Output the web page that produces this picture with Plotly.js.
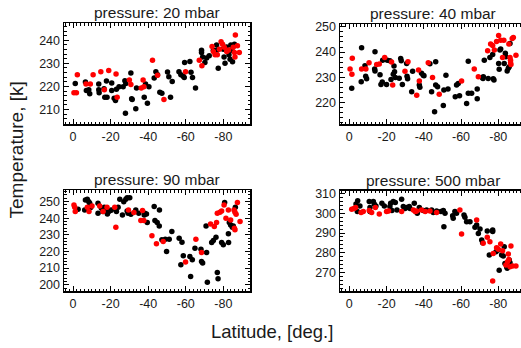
<!DOCTYPE html>
<html>
<head>
<meta charset="utf-8">
<script src="https://cdn.plot.ly/plotly-3.0.1.min.js"></script>
<style>
html,body{margin:0;padding:0;overflow:hidden;width:521px;height:348px;background:#fff;}
#chart{width:540px;height:348px;}
</style>
</head>
<body>
<div id="chart"></div>
<script>
// ---------- data ----------
const titles = ["pressure: 20 mbar", "pressure: 40 mbar", "pressure: 90 mbar", "pressure: 500 mbar"];

// 20 mbar
const lat20Black = [-1.2,-6.6,-7.1,-8.4,-8.9,-13.7,-13.7,-13.9,-16.5,-16.9,-17.8,-18.1,-20.6,-20.6,-21.9,-22.6,-23.1,-24.5,-26.7,-27.6,-28.1,-27.9,-30.8,-31.5,-31.2,-33.4,-33.8,-37.9,-38.6,-39.6,-40.4,-43.2,-44.1,-45,-46.2,-47.3,-50.3,-51,-51.9,-52.8,-56.4,-57.4,-58.7,-59.2,-59.4,-62.2,-62.8,-63.6,-65.2,-68.4,-68.4,-69,-70.2,-71.1,-72.5,-74.7,-76.4,-76.6,-77.3,-80,-80.4,-80.9,-81.8,-82.7,-83,-83.6,-84,-84.5,-84.9,-85.9];
const t20Black   = [221.3,221.9,218.2,218.5,216.8,221,218.5,217.3,219,215.3,222.3,215.3,221.5,218.2,214.9,213.9,218.8,219.9,219.9,222.5,221.3,208.4,225.8,214.3,214.6,210.3,219.3,215.3,221,212.7,219.9,223.6,226.4,225.1,217.5,217,226.2,224.2,215.3,222.1,226.4,225.1,224.4,223.9,230.4,230.8,226.1,223.9,219.3,235.7,234.7,232.8,230.4,232.3,233.3,235.7,238,235.7,227.9,236.1,232.8,230,237.1,235.4,233.7,231.8,238,235.7,230.7,238.3];
const lat20Red   = [-0.5,-1.8,-2.3,-6.9,-9.2,-10.7,-14.8,-16.7,-19,-22.9,-23.5,-30,-30.8,-36.3,-37.3,-37.7,-42.3,-45,-48.4,-59.9,-67.2,-68.6,-74,-74.7,-75.6,-76.8,-77.9,-78.8,-79.6,-80.5,-81.8,-82.8,-85.3,-85.9,-86.2,-86.4,-87.5,-88.5];
const t20Red     = [217.2,217.2,225.1,221,221,225.1,226.4,218.5,226.9,225.4,215.3,222.8,220.8,219.3,222.8,219.9,231.4,224.8,214.3,226.4,231.4,229,237.3,235.1,233.7,233.7,236.1,239.4,238.3,237,235.1,235.8,237,234.7,232.8,242.3,237.6,234.7];

// 40 mbar
const lat40Black = [-1.3,-6.6,-6.4,-8.4,-8.8,-9.3,-13.8,-13.6,-13.8,-16.5,-17,-17.7,-17.9,-20.4,-20,-21.8,-22.4,-23.6,-24,-24.3,-24.7,-26.8,-27.6,-27.9,-28.5,-30.8,-31,-31.3,-33.5,-34,-37.6,-37.9,-38.8,-39.7,-40.1,-43.3,-44.2,-45.8,-46.4,-46.4,-47.4,-50.5,-50.8,-51.9,-53,-56.9,-57.6,-58.5,-59.2,-63,-63.9,-63.9,-65.7,-68.7,-68.7,-71.4,-71.8,-72,-72.5,-74.6,-75.5,-77,-77.3,-77.7,-80.2,-80.5,-80.9,-81.3,-83.2,-83.8,-84.1,-84.8,-85.4,-85.9,-86.3];
const t40Black   = [225.7,241.7,228.3,234.6,230.5,229.5,240.1,233.3,232.5,231.1,227.2,228.2,236.8,236.8,227.2,236.6,229.2,231.3,234.5,232.2,230,229.7,237.5,236.6,227.2,235.5,230.5,229.5,224.3,232.4,227,226.1,231.6,230.9,230.7,235.4,224.3,216.4,236.2,227,226.3,218.9,225,230.9,225.4,222.4,227,227.6,222.8,219.7,223.7,236.4,223.7,225.4,221.6,230,229.6,230.3,236.8,229.6,237.9,239.1,229.5,229,235.5,233.2,240.8,241.2,235.5,239.5,238.2,232.5,233.6,234.2,243.4];
const lat40Red   = [-0.4,-1.4,-1.6,-6.6,-8.9,-10.6,-14.7,-16.1,-19,-22.7,-23.3,-29.9,-31.5,-36.2,-37.2,-37.6,-42.4,-44.7,-48.3,-60.3,-67.1,-69.3,-74.3,-75.9,-77,-77.9,-79.1,-80.2,-81.3,-82.3,-83,-85.7,-86.3,-86.6,-86.6,-86.8,-87.5,-88.1,-89.5];
const t40Red     = [233.3,231.3,237.6,233.3,233.3,235.8,235.1,235.3,237.9,236.1,227,232.4,236.2,223,232.9,228.6,235.8,230,223.4,228.6,233.3,230.3,240.5,243.2,242.6,240.8,244.2,246.6,244.7,237.9,244.7,243.2,237.9,236.8,235.8,235.1,245.4,245.8,238.8];

// 90 mbar
const lat90Black = [-2.7,-6.2,-6.6,-7.6,-8.4,-8.9,-9.4,-13.3,-13.3,-15.1,-16,-16.7,-17.4,-18.3,-19,-19.9,-20.4,-23.1,-24,-24.9,-26.3,-27,-28.1,-28.8,-30.2,-28.8,-29.3,-30.8,-33.4,-35,-37.9,-38.2,-39.1,-39.5,-43.2,-43.6,-44.8,-45.9,-46,-47.3,-49.1,-49.8,-51.2,-52.6,-56.5,-58,-57.4,-58.7,-62.2,-62.6,-63.5,-64.9,-68.1,-68.4,-69,-70.8,-71.1,-71.5,-73.8,-74.7,-76.1,-76.8,-77.2,-79.1,-80,-80.7,-82.7,-82.8,-83.2,-83.9,-84.8,-85.3,-86.4];
const t90Black   = [245.4,245,251,251.4,250,249,246.4,249,243,246,244,246.6,246,242.6,244,244.6,245,244,246.6,251.4,242,250,251.4,252.4,252.4,244.4,243,242.4,245,243,242,243,242.6,237.4,247,238.6,237.4,235.4,245,227,227.4,220,227.4,232,228,225.6,212,217.4,217,205,215,222,221.4,214,213,235.4,219.4,201.4,225.4,226.6,228.6,207.4,203.6,225.4,224,249.4,230.6,225.4,237.4,236,234.6,235.4,246.6];
const lat90Red   = [-0.5,-0.9,-1.2,-7.6,-8.5,-10.1,-14.2,-16,-18.1,-22.2,-22.8,-29.5,-32.4,-36.1,-37,-37.7,-42,-44.4,-48,-59.9,-65.4,-68.4,-73.2,-75.2,-76.4,-76.8,-78.2,-79.1,-80.4,-81.4,-82.7,-83.9,-85.7,-86.2,-85.9,-86.2,-86.8,-87.5,-88.9];
const t90Red     = [248,246.6,244,246.6,244,247.4,247.4,244,246.6,246.6,234.6,245,243.4,238.6,244.6,238.6,229.4,224.6,226,213.6,227.4,219.4,236.6,235,237.4,243,243.6,244.4,248,240,245,239,245,243.6,234,233,242.4,249.4,238];

// 500 mbar
const lat500Black = [-3.6,-4.5,-4.3,-5.7,-10.7,-11.1,-11.1,-12.9,-13.4,-14.3,-17.5,-18.8,-21.8,-22.2,-22.9,-23.6,-24.7,-25.6,-28.1,-29,-29.9,-30.8,-32.2,-32.6,-34.9,-36.5,-37.6,-39.7,-41.5,-44.2,-45.1,-46.9,-49.2,-50.5,-51.4,-50.8,-55.5,-55.8,-56.7,-57.6,-61.6,-62.1,-63,-64.8,-67.5,-68.4,-69.3,-70.2,-71.1,-71.6,-74.1,-75.2,-77,-77,-78.8,-80,-80.5,-81.8,-82.7,-83.2,-83.6,-84.5,-84.8,-85.9,-86.3];
const t500Black   = [304.6,306.3,300.8,303.6,305.8,302.8,300.8,305.8,304.6,303.6,305,303.6,303.3,305,301.3,305.8,305.3,301.6,307,303.3,302.4,302.9,303.3,302.4,305,299.9,302.9,301.3,301.6,301.6,300.3,301.1,300.8,301.3,299.9,293.2,298.7,297.4,300.8,299.9,299.1,297.9,295.7,295.7,292.9,294,289.8,292,286.5,285.1,291,278.9,291.5,290.8,280.6,281.4,271.3,278.9,278.4,283.1,274.7,273,272.2,276.4,275];
const lat500Red   = [-1.3,-2.5,-3.4,-6.3,-7.5,-10.7,-12,-14,-16.1,-20,-21.1,-28.1,-34.4,-35.4,-36.2,-38.8,-40.8,-43.3,-46.9,-59.4,-60.3,-68.4,-71.9,-74.1,-75.5,-77,-77.3,-79.1,-80,-81.3,-82.3,-84.1,-85,-85.4,-85.7,-86.3,-86.8,-87.7,-89.5];
const t500Red     = [301.9,302.4,302.9,300.3,300.8,301.3,300.3,302.9,299.6,300.8,301.1,300.8,301.6,300.8,301.1,301.6,300.8,301.1,300.3,301.6,289.5,296.6,284.8,287.8,285.6,265.8,279.7,282.6,281.8,284.5,281.1,273.9,275.5,279.4,276.7,273,283.4,273.4,273.4];

const xTickVals = [0, -20, -40, -60, -80];

// ---------- layout helpers ----------
const W = 540, H = 348;
const px = v => v / W;
const py = v => 1 - v / H;

const panels = [
  {lat: [lat20Black, lat20Red], t: [t20Black, t20Red], xd: [64, 250], yd: [23, 124], xr: [4.8, -94.2], yr: [203.7, 247.5], yt: [210, 220, 230, 240]},
  {lat: [lat40Black, lat40Red], t: [t40Black, t40Red], xd: [340, 526], yd: [24, 124], xr: [5, -94.9], yr: [211.6, 251.1], yt: [220, 230, 240, 250]},
  {lat: [lat90Black, lat90Red], t: [t90Black, t90Red], xd: [64, 250], yd: [190, 291], xr: [4.8, -94.2], yr: [196.2, 257], yt: [200, 210, 220, 230, 240, 250]},
  {lat: [lat500Black, lat500Red], t: [t500Black, t500Red], xd: [340, 526], yd: [190.7, 291], xr: [5, -94.9], yr: [260.8, 311.3], yt: [270, 280, 290, 300, 310]}
];

const colors = ["#000000", "#ff0000"];
const FONT = "Liberation Sans, Arial, sans-serif";
const tickFont = {family: FONT, size: 12.5, color: "#1a1a1a"};

const data = [];
const layout = {
  width: W, height: H,
  margin: {l: 0, r: 0, t: 0, b: 0},
  paper_bgcolor: "#ffffff", plot_bgcolor: "#ffffff",
  showlegend: false,
  annotations: []
};

panels.forEach((p, i) => {
  const n = i + 1;
  const xa = "x" + (n === 1 ? "" : n), ya = "y" + (n === 1 ? "" : n);
  for (let s = 0; s < 2; s++) {
    data.push({
      type: "scatter", mode: "markers",
      x: p.lat[s], y: p.t[s], xaxis: xa, yaxis: ya,
      marker: {color: colors[s], size: 5.5, line: {width: 0}},
      hoverinfo: "skip"
    });
  }
  const common = {
    showline: true, linecolor: "#000", linewidth: 1.5, mirror: "allticks",
    ticks: "inside", ticklen: 5, tickwidth: 1, tickcolor: "#000",
    showgrid: false, zeroline: false, tickfont: tickFont, fixedrange: true
  };
  layout["xaxis" + (n === 1 ? "" : n)] = Object.assign({}, common, {
    domain: [px(p.xd[0]), px(p.xd[1])], range: p.xr, anchor: ya,
    tickmode: "array", tickvals: xTickVals, ticktext: xTickVals.map(String),
    minor: {dtick: 2, tick0: 0, ticks: "inside", ticklen: 2.5, tickcolor: "#000", tickwidth: 1}
  });
  layout["yaxis" + (n === 1 ? "" : n)] = Object.assign({}, common, {
    domain: [py(p.yd[1]), py(p.yd[0])], range: p.yr, anchor: xa,
    tickmode: "array", tickvals: p.yt, ticktext: p.yt.map(String),
    minor: {dtick: 2, tick0: 0, ticks: "inside", ticklen: 2.5, tickcolor: "#000", tickwidth: 1}
  });
  layout.annotations.push({
    text: titles[i], showarrow: false, xref: "paper", yref: "paper",
    x: px((p.xd[0] + p.xd[1]) / 2), y: py(p.yd[0] - 10.5),
    xanchor: "center", yanchor: "middle",
    font: {family: FONT, size: 15.5, color: "#1a1a1a"}
  });
});

layout.annotations.push({
  text: "Temperature, [k]", showarrow: false, xref: "paper", yref: "paper",
  x: px(16), y: py(150.5), xanchor: "center", yanchor: "middle", textangle: -90,
  font: {family: FONT, size: 19, color: "#1a1a1a"}
});
layout.annotations.push({
  text: "Latitude, [deg.]", showarrow: false, xref: "paper", yref: "paper",
  x: px(271.5), y: py(331), xanchor: "center", yanchor: "middle",
  font: {family: FONT, size: 18.5, color: "#1a1a1a"}
});

Plotly.newPlot("chart", data, layout, {displayModeBar: false, staticPlot: true});
</script>
</body>
</html>
